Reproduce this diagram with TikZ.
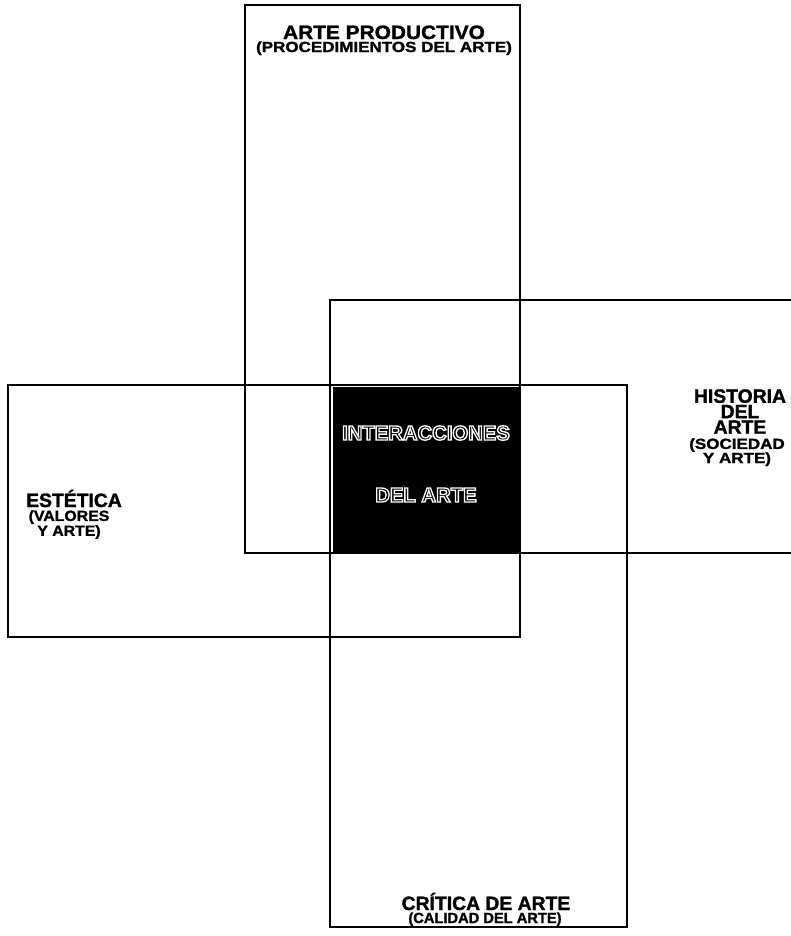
\documentclass[tikz,border=0pt]{standalone}
\usepackage{fontspec}
\usetikzlibrary{positioning}
\newfontfamily\hvA[FakeStretch=1.16, FakeBold=1.5]{Liberation Sans Bold}
\newfontfamily\hvB[FakeStretch=1.08, FakeBold=1.5]{Liberation Sans Bold}
\newfontfamily\hvC[FakeBold=1.5]{Liberation Sans Bold}
\newfontfamily\hvn{Liberation Sans Bold}
\newcommand\hollow[1]{\special{pdf:literal direct 1 Tr 1 w}#1\special{pdf:literal direct 0 Tr}}

\begin{document}
\begin{tikzpicture}[x=0.75pt, y=-0.75pt,
    box/.style={line width=1.8pt},
    ttl/.style={font=\hvC\fontsize{14.5}{11.6}\selectfont, align=center, inner sep=0pt},
    ttlw/.style={ttl, font=\hvB\fontsize{14.5}{11.6}\selectfont},
    sub/.style={font=\hvB\fontsize{11}{10.6}\selectfont, align=center, inner sep=0pt},
    subw/.style={sub, font=\hvA\fontsize{11}{10.6}\selectfont},
    subn/.style={sub, font=\hvC\fontsize{11}{10.6}\selectfont},
    core/.style={font=\hvn\fontsize{15.2}{15}\selectfont, text=white, inner sep=0pt}]
  \useasboundingbox (0,0) rectangle (791,936);
  % dark centre
  \fill (333,387) rectangle (520,552);
  % the four fields
  \draw[box] (245,5) rectangle (520,553);
  \draw[box] (791,300) -- (330,300) -- (330,553) -- (791,553);
  \draw[box] (8,385) rectangle (520,637);
  \draw[box] (330,385) rectangle (627,927);
  % labels
  \node[ttlw, anchor=base] (prod) at (384,39) {ARTE PRODUCTIVO};
  \node[subw, anchor=base] (proc) at (384,52) {(PROCEDIMIENTOS DEL ARTE)};
  \node[ttl, anchor=north] (hist) at (740,389) {HISTORIA\\DEL\\ARTE};
  \node[subw, anchor=north] (soc) at (737,438) {(SOCIEDAD\\Y ARTE)};
  \node[ttl, anchor=base] (est) at (74,507) {ESTÉTICA};
  \node[sub, anchor=north] (val) at (69,510) {(VALORES\\[0.6pt]Y ARTE)};
  \node[ttl, anchor=base] (crit) at (486,910) {CRÍTICA DE ARTE};
  \node[subn, anchor=base] (cal) at (485,923) {(CALIDAD DEL ARTE)};
  \node[core, anchor=base] (inter) at (426,440) {\hollow{INTERACCIONES}};
  \node[core, anchor=base] (del) at (426,502) {\hollow{DEL ARTE}};
\end{tikzpicture}
\end{document}
